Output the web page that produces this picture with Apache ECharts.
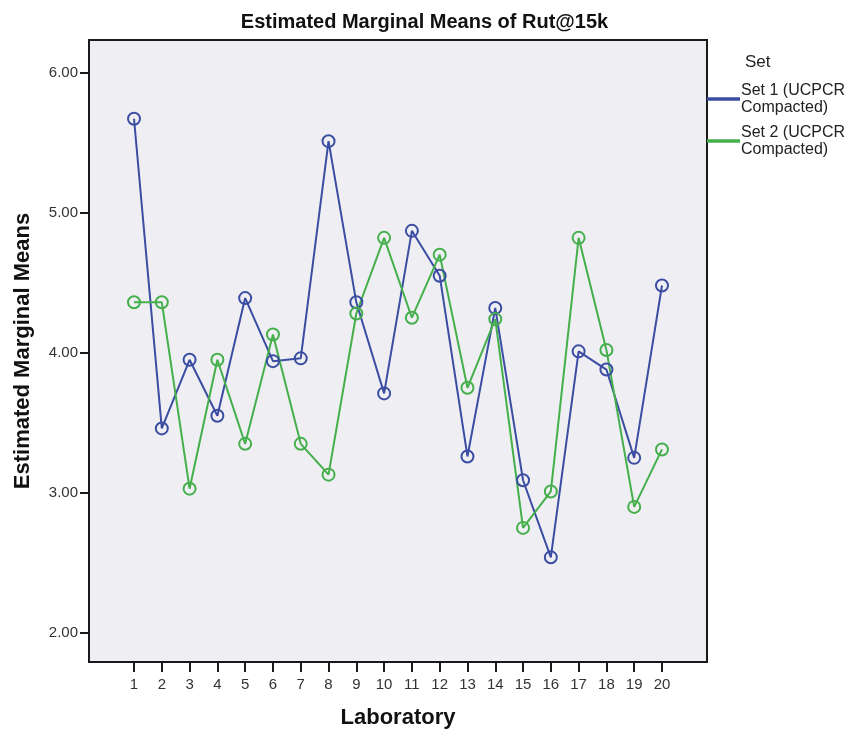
<!DOCTYPE html>
<html>
<head>
<meta charset="utf-8">
<script src="https://cdn.jsdelivr.net/npm/echarts@6/dist/echarts.min.js"></script>
<style>
html,body{margin:0;padding:0;background:#fff;}
#chart{width:849px;height:736px;}
</style>
</head>
<body>
<div id="chart"></div>
<script>
const laboratories = [1,2,3,4,5,6,7,8,9,10,11,12,13,14,15,16,17,18,19,20];
const set1 = [5.67,3.46,3.95,3.55,4.39,3.94,3.96,5.51,4.36,3.71,4.87,4.55,3.26,4.32,3.09,2.54,4.01,3.88,3.25,4.48];
const set2 = [4.36,4.36,3.03,3.95,3.35,4.13,3.35,3.13,4.28,4.82,4.25,4.70,3.75,4.24,2.75,3.01,4.82,4.02,2.90,3.31];
const yTicks = [2,3,4,5,6];
const seriesNames = ['Set 1 (UCPCR\nCompacted)', 'Set 2 (UCPCR\nCompacted)'];
const seriesColors = ['#3A4DA2', '#45AF4C'];

const chart = echarts.init(document.getElementById('chart'));
const font = 'Liberation Sans, Arial, sans-serif';
function pairs(vals){ return laboratories.map((l,i)=>[l, vals[i]]); }

chart.setOption({
  backgroundColor: '#ffffff',
  animation: false,
  title: [
    {text: 'Estimated Marginal Means of Rut@15k', left: 'center', top: 7,
     textStyle: {fontFamily: font, fontSize: 20, fontWeight: 'bold', color: '#111'}},
    {text: 'Set', left: 745, top: 54, padding: 0,
     textStyle: {fontFamily: font, fontSize: 17, fontWeight: 'normal', color: '#222'}}
  ],
  legend: {
    orient: 'vertical', left: 707, top: 82, padding: 0,
    icon: 'rect', itemWidth: 31, itemHeight: 1.6, itemGap: 8,
    textStyle: {fontFamily: font, fontSize: 16, color: '#222', lineHeight: 17, padding: [0,0,0,-3]},
    data: seriesNames.map((n,i)=>({name: n, itemStyle: {color: seriesColors[i]}}))
  },
  grid: {left: 89, right: 142, top: 40, bottom: 74, show: true,
         backgroundColor: '#EFEFF3', borderColor: '#1a1a1a', borderWidth: 2},
  xAxis: {
    type: 'value', min: -0.62, max: 21.62,
    name: 'Laboratory', nameLocation: 'middle', nameGap: 45,
    nameTextStyle: {fontFamily: font, fontSize: 22, fontWeight: 'bold', color: '#111'},
    axisLine: {show: true, onZero: false, lineStyle: {color: '#1a1a1a', width: 2}},
    splitLine: {show: false},
    axisTick: {show: true, length: 10, customValues: laboratories, lineStyle: {color: '#1a1a1a', width: 2}},
    axisLabel: {customValues: laboratories, fontFamily: font, fontSize: 15, color: '#333', margin: 15}
  },
  yAxis: {
    type: 'value', min: 1.793, max: 6.232,
    name: 'Estimated Marginal Means', nameLocation: 'middle', nameGap: 55, nameRotate: 90,
    nameTextStyle: {fontFamily: font, fontSize: 22, fontWeight: 'bold', color: '#111'},
    axisLine: {show: true, onZero: false, lineStyle: {color: '#1a1a1a', width: 2}},
    splitLine: {show: false},
    axisTick: {show: true, length: 9, customValues: yTicks, lineStyle: {color: '#1a1a1a', width: 2}},
    axisLabel: {customValues: yTicks, fontFamily: font, fontSize: 15, color: '#333', margin: 11,
                formatter: v => v.toFixed(2)}
  },
  series: [0,1].map(i => ({
    name: seriesNames[i], type: 'line', data: pairs(i === 0 ? set1 : set2),
    symbol: 'circle', symbolSize: 12,
    lineStyle: {width: 2, color: seriesColors[i]},
    itemStyle: {color: 'rgba(0,0,0,0)', borderWidth: 2, borderColor: seriesColors[i]},
    emphasis: {disabled: true}
  }))
});
</script>
</body>
</html>
